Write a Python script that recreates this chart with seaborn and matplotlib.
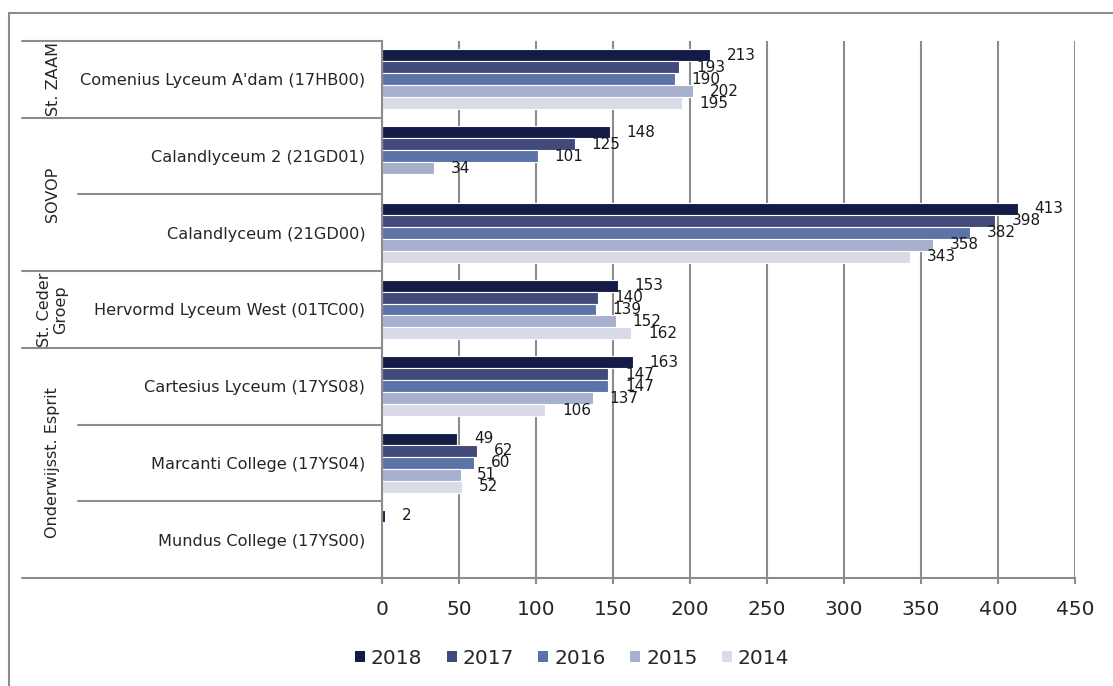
import numpy as np
import pandas as pd
import matplotlib
matplotlib.use("Agg")
import matplotlib.pyplot as plt
import seaborn as sns
from matplotlib.lines import Line2D
from matplotlib.patches import Patch
import matplotlib.transforms as mtransforms

# ---------------------------
# DATA
# ---------------------------
schools = [
    "Comenius Lyceum A'dam (17HB00)",
    "Calandlyceum 2 (21GD01)",
    "Calandlyceum (21GD00)",
    "Hervormd Lyceum West (01TC00)",
    "Cartesius Lyceum (17YS08)",
    "Marcanti College (17YS04)",
    "Mundus College (17YS00)",
]
groups = ["St. ZAAM", "SOVOP", "St. Ceder\nGroep", "Onderwijsst. Esprit"]
group_sizes = [1, 2, 1, 3]

years = ["2018", "2017", "2016", "2015", "2014"]
v2018 = [213, 148, 413, 153, 163, 49, 2]
v2017 = [193, 125, 398, 140, 147, 62, np.nan]
v2016 = [190, 101, 382, 139, 147, 60, np.nan]
v2015 = [202, 34, 358, 152, 137, 51, np.nan]
v2014 = [195, np.nan, 343, 162, 106, 52, np.nan]

colors = ["#141b47", "#414a7a", "#5b73a7", "#a7b0cc", "#dadbe8"]
xticks = [0, 50, 100, 150, 200, 250, 300, 350, 400, 450]

rows = []
for yr, vals in zip(years, [v2018, v2017, v2016, v2015, v2014]):
    for s, v in zip(schools, vals):
        rows.append({"school": s, "year": yr, "count": v})
df = pd.DataFrame(rows).dropna()

# ---------------------------
# PLOT
# ---------------------------
sns.set_style("white")
plt.rcParams["font.family"] = ["DejaVu Sans"]
grey = "#8c8c8c"

fig = plt.figure(figsize=(11.13, 6.86), dpi=100)
ax = fig.add_axes([382 / 1113, 1 - 578 / 686, (1075 - 382) / 1113, (578 - 41) / 686])

sns.barplot(data=df, y="school", x="count", hue="year", order=schools,
            hue_order=years, palette=colors, orient="h", width=0.78,
            edgecolor="white", linewidth=0.8, saturation=1, ax=ax, legend=False)

for c in ax.containers:
    ax.bar_label(c, fmt="%d", padding=12, fontsize=11, color="#1a1a1a")

ax.set_xlim(0, 450)
ax.set_ylim(6.5, -0.5)
ax.set_xticks(xticks)
ax.set_xlabel("")
ax.set_ylabel("")
ax.xaxis.grid(True, color=grey, linewidth=1.5)
ax.set_axisbelow(True)
ax.tick_params(axis="x", direction="out", length=4, width=1.5, color=grey,
               labelsize=14.5, pad=12, bottom=True)
ax.tick_params(axis="y", length=0, labelsize=11.6, pad=12)
for side in ["top", "right"]:
    ax.spines[side].set_visible(False)
for side in ["left", "bottom"]:
    ax.spines[side].set_color(grey)
    ax.spines[side].set_linewidth(1.5)

# separators and group labels on the left
trans = mtransforms.blended_transform_factory(ax.transAxes, ax.transData)
x_outer = (22 - 382) / (1075 - 382)
x_inner = (78 - 382) / (1075 - 382)
x_group = (53 - 382) / (1075 - 382)
bounds = np.cumsum([0] + group_sizes) - 0.5
for b in bounds:
    ax.plot([x_outer, 0], [b, b], color=grey, lw=1.5, transform=trans, clip_on=False)
for i in range(len(schools) + 1):
    b = i - 0.5
    if b not in bounds:
        ax.plot([x_inner, 0], [b, b], color=grey, lw=1.5, transform=trans, clip_on=False)
for g, lo, hi in zip(groups, bounds[:-1], bounds[1:]):
    ax.text(x_group, (lo + hi) / 2, g, rotation=90, ha="center", va="center",
            fontsize=11.5, transform=trans, linespacing=1.1)

# outer frame (top and left edges)
fig.add_artist(Line2D([9 / 1113, 1], [1 - 13 / 686] * 2, color=grey, lw=1.5))
fig.add_artist(Line2D([9 / 1113] * 2, [0, 1 - 13 / 686], color=grey, lw=1.5))

# legend
handles = [Patch(facecolor=c, edgecolor="none", label=y) for c, y in zip(colors, years)]
fig.legend(handles=handles, loc="center", bbox_to_anchor=(572 / 1113, 1 - 658 / 686),
           ncol=5, frameon=False, fontsize=14.5, handlelength=0.5, handleheight=0.5,
           handletextpad=0.3, columnspacing=1.2)

fig.savefig("out.png", dpi=100)
